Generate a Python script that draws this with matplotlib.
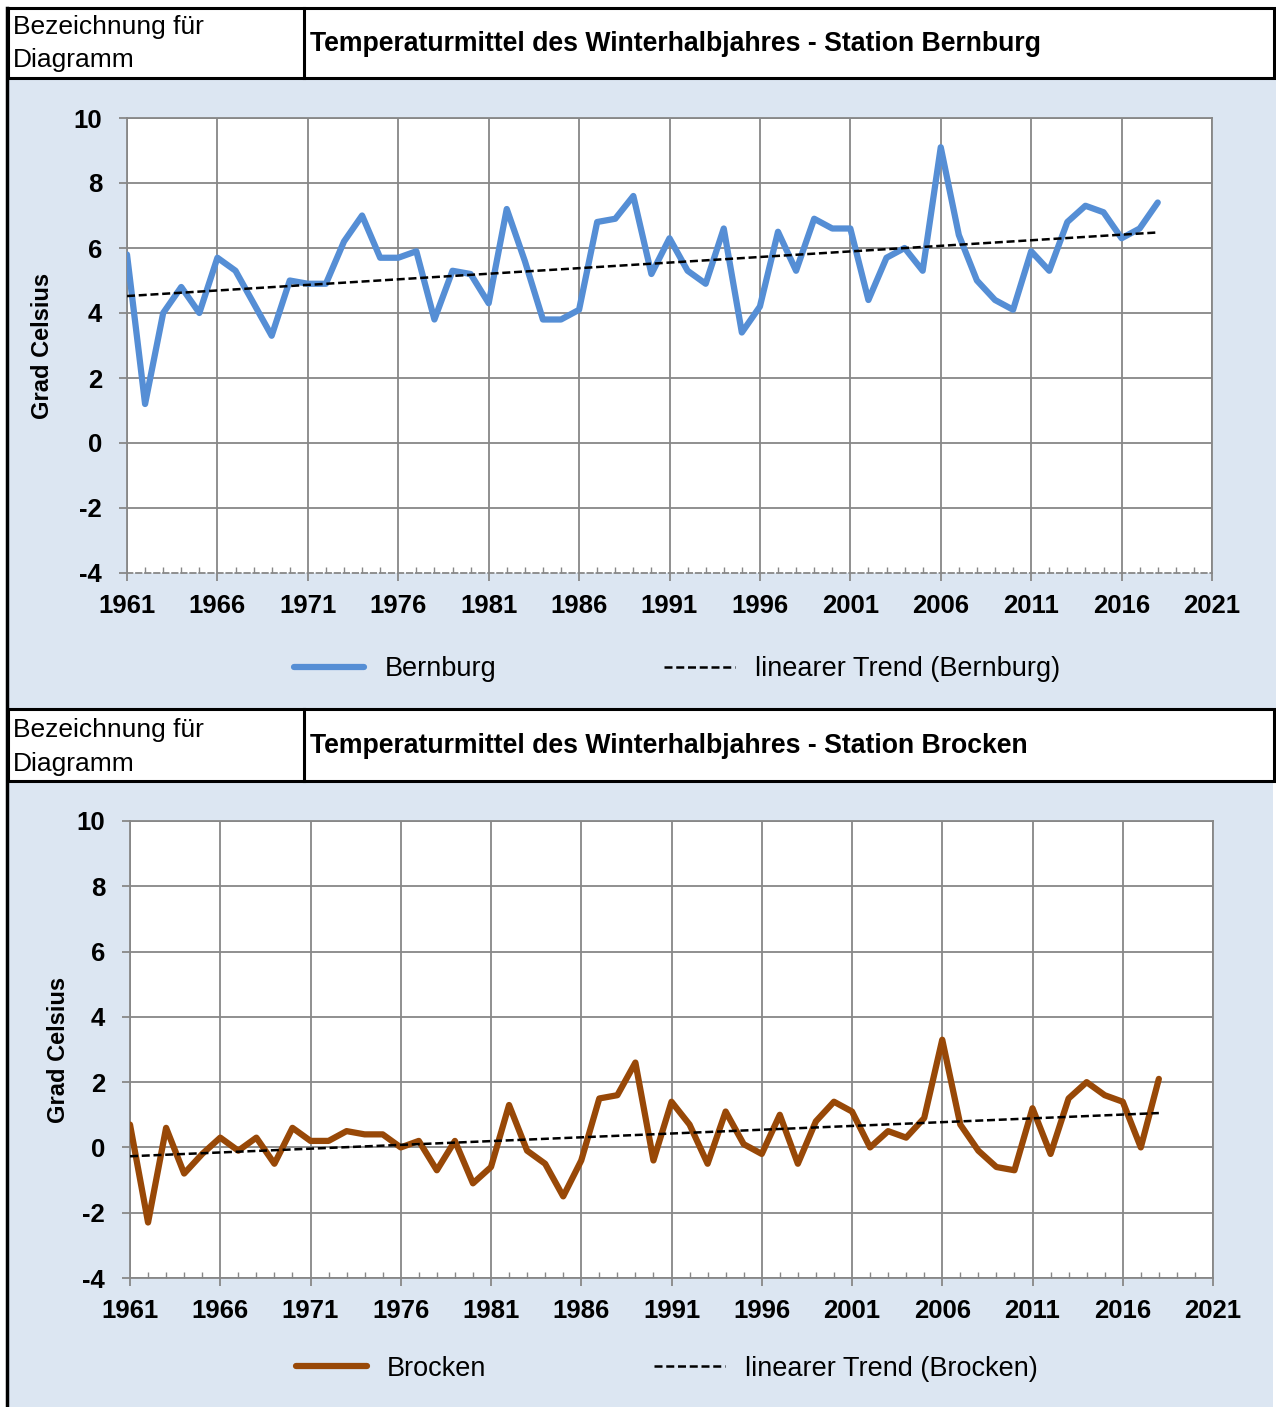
import numpy as np
import matplotlib
matplotlib.use("Agg")
import matplotlib.pyplot as plt
from matplotlib.patches import Rectangle

plt.rcParams['font.family'] = ['Liberation Sans', 'DejaVu Sans']
plt.rcParams['axes.unicode_minus'] = False

# --- data (winter half-year mean temperature, deg C) ---
years = list(range(1961, 2019))
bernburg = [5.8, 1.2, 4.0, 4.8, 4.0, 5.7, 5.3, 4.3, 3.3, 5.0,
            4.9, 4.9, 6.2, 7.0, 5.7, 5.7, 5.9, 3.8, 5.3, 5.2,
            4.3, 7.2, 5.6, 3.8, 3.8, 4.1, 6.8, 6.9, 7.6, 5.2,
            6.3, 5.3, 4.9, 6.6, 3.4, 4.2, 6.5, 5.3, 6.9, 6.6,
            6.6, 4.4, 5.7, 6.0, 5.3, 9.1, 6.4, 5.0, 4.4, 4.1,
            5.9, 5.3, 6.8, 7.3, 7.1, 6.3, 6.6, 7.4]
brocken = [0.7, -2.3, 0.6, -0.8, -0.2, 0.3, -0.1, 0.3, -0.5, 0.6,
           0.2, 0.2, 0.5, 0.4, 0.4, 0.0, 0.2, -0.7, 0.2, -1.1,
           -0.6, 1.3, -0.1, -0.5, -1.5, -0.4, 1.5, 1.6, 2.6, -0.4,
           1.4, 0.7, -0.5, 1.1, 0.1, -0.2, 1.0, -0.5, 0.8, 1.4,
           1.1, 0.0, 0.5, 0.3, 0.9, 3.3, 0.7, -0.1, -0.6, -0.7,
           1.2, -0.2, 1.5, 2.0, 1.6, 1.4, 0.0, 2.1]

xticks = list(range(1961, 2022, 5))
yticks = list(range(-4, 11, 2))

W, H = 1276, 1407
BG = '#dce6f2'
GRID = '#878787'

fig = plt.figure(figsize=(W / 100, H / 100), dpi=100)
fig.patch.set_facecolor('white')

# background / header boxes drawn in pixel coordinates
bg = fig.add_axes([0, 0, 1, 1], zorder=0)
bg.set_xlim(0, W)
bg.set_ylim(H, 0)
bg.axis('off')


def header(y0, y1, title, b1, b2):
    bg.add_patch(Rectangle((8, y0), W - 10, y1 - y0, facecolor='white',
                           edgecolor='black', lw=2.2))
    bg.plot([304, 304], [y0, y1], color='black', lw=2.2)
    bg.text(13, y0 + b1, 'Bezeichnung für', fontsize=19, va='baseline', ha='left')
    bg.text(13, y0 + b2, 'Diagramm', fontsize=19, va='baseline', ha='left')
    bg.text(310, (y0 + y1) / 2 + 1, title, fontsize=19.2, fontweight='bold',
            va='center', ha='left')


bg.add_patch(Rectangle((8, 78), W - 8, 631, facecolor=BG, edgecolor='none'))
bg.add_patch(Rectangle((8, 780), W - 11, H - 780, facecolor=BG, edgecolor='none'))
bg.plot([7, 7], [8, H], color='black', lw=2.5)
header(8, 78, 'Temperaturmittel des Winterhalbjahres - Station Bernburg', 26, 59)
header(709, 781, 'Temperaturmittel des Winterhalbjahres - Station Brocken', 28, 62)


def panel(rect, values, color, name, ylab_x, leg_pos, dashed_axis):
    ax = fig.add_axes(rect, zorder=1)
    ax.set_facecolor('white')
    line, = ax.plot(years, values, color=color, lw=4.5, solid_joinstyle='round',
                    solid_capstyle='round', label=name, zorder=3)
    coef = np.polyfit(years, values, 1)
    trend = np.polyval(coef, years)
    tline, = ax.plot(years, trend, color='black', lw=1.8,
                     linestyle=(0, (3.2, 1.5)),
                     label='linearer Trend (%s)' % name, zorder=4)
    ax.set_xlim(1961, 2021)
    ax.set_ylim(-4, 10)
    ax.set_xticks(xticks)
    ax.set_yticks(yticks)
    ax.set_xticks(years + [2019, 2020], minor=True)
    ax.grid(True, which='major', color=GRID, lw=1.3)
    ax.set_axisbelow(True)
    if dashed_axis:
        ax.yaxis.get_gridlines()[0].set_visible(False)
        ax.spines['bottom'].set_linestyle((0, (3, 2)))
    for s in ax.spines.values():
        s.set_color(GRID)
        s.set_linewidth(1.3)
    ax.tick_params(axis='both', which='major', color=GRID, width=1.3,
                   length=6, labelsize=18.5)
    ax.tick_params(axis='x', which='major', pad=9)
    ax.tick_params(axis='y', which='major', pad=12)
    ax.tick_params(axis='x', which='minor', direction='in', length=4,
                   width=1.0, color=GRID)
    for lbl in ax.get_xticklabels() + ax.get_yticklabels():
        lbl.set_fontweight('bold')
    ax.set_ylabel('Grad Celsius', fontsize=17, fontweight='bold')
    ax.yaxis.set_label_coords(ylab_x, 0.5)
    ax.legend(handles=[line, tline], loc='center', bbox_to_anchor=leg_pos,
              ncol=2, frameon=False, fontsize=19.5, handlelength=2.6,
              handletextpad=0.75, columnspacing=6.2)
    return ax


panel([127 / W, 1 - 573 / H, 1085 / W, 455 / H], bernburg, '#558ed5',
      'Bernburg', -0.067, (0.507, -0.211), True)
panel([130 / W, 1 - 1278 / H, 1083 / W, 457 / H], brocken, '#984807',
      'Brocken', -0.055, (0.496, -0.199), False)

fig.savefig('out.png', dpi=100)
